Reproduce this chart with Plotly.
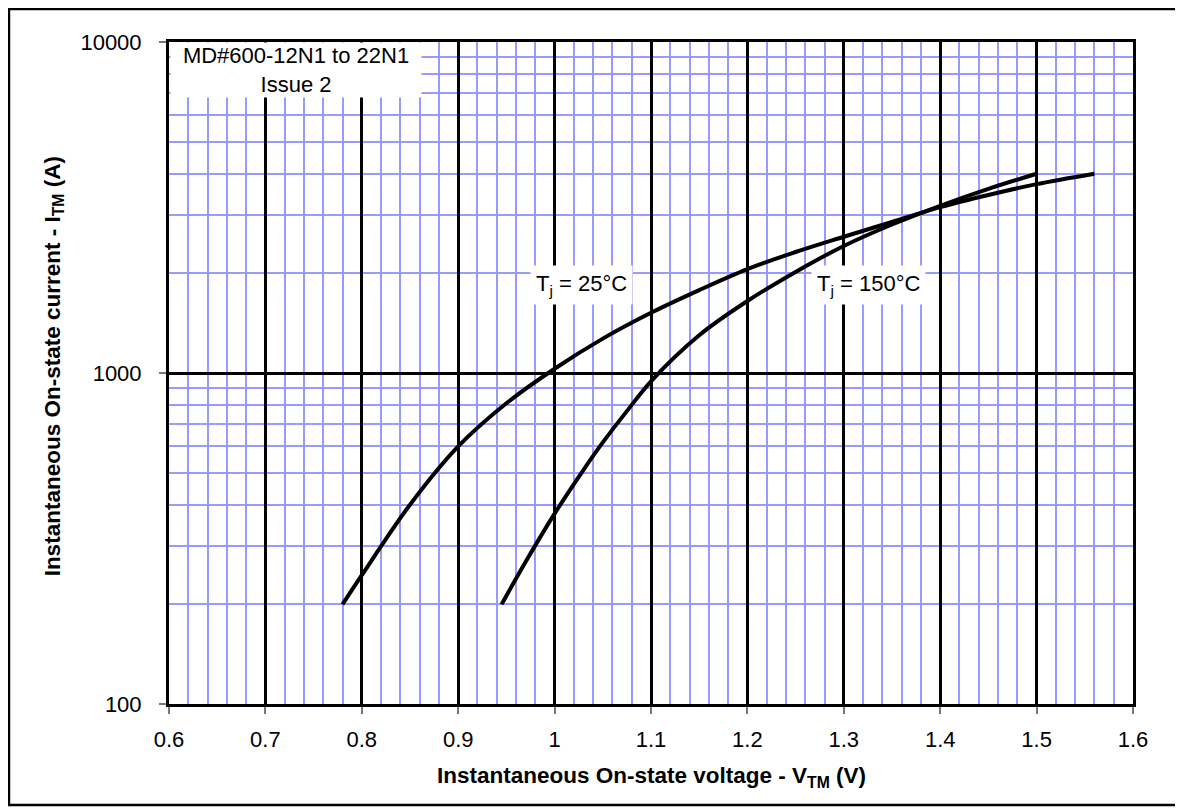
import plotly.graph_objects as go

# Data
v_25 = [0.78, 0.80, 0.85, 0.90, 0.95, 1.00, 1.05, 1.10, 1.15, 1.20, 1.25, 1.30, 1.35, 1.40, 1.45, 1.50, 1.56]
i_25 = [200, 245, 400, 600, 810, 1030, 1270, 1520, 1780, 2060, 2320, 2580, 2860, 3170, 3450, 3720, 4000]

v_150 = [0.945, 0.97, 1.00, 1.03, 1.05, 1.075, 1.10, 1.15, 1.20, 1.25, 1.30, 1.35, 1.40, 1.45, 1.50]
i_150 = [200, 269, 376, 510, 617, 767, 944, 1300, 1650, 2020, 2420, 2810, 3200, 3600, 4000]

x_ticks = [0.6, 0.7, 0.8, 0.9, 1.0, 1.1, 1.2, 1.3, 1.4, 1.5, 1.6]
x_tick_text = ["0.6", "0.7", "0.8", "0.9", "1", "1.1", "1.2", "1.3", "1.4", "1.5", "1.6"]
y_ticks = [100, 1000, 10000]
y_tick_text = ["100", "1000", "10000"]
y_minor = [200, 300, 400, 500, 600, 700, 800, 900, 2000, 3000, 4000, 5000, 6000, 7000, 8000, 9000]

FONT = "Liberation Sans, Arial, sans-serif"
BLUE = "#9999ff"

fig = go.Figure()
fig.add_trace(go.Scatter(x=v_25, y=i_25, mode="lines", line=dict(color="black", width=4, shape="spline"),
                         showlegend=False, hoverinfo="skip"))
fig.add_trace(go.Scatter(x=v_150, y=i_150, mode="lines", line=dict(color="black", width=4, shape="spline"),
                         showlegend=False, hoverinfo="skip"))

fig.update_layout(
    width=1175, height=802,
    margin=dict(l=161, r=50, t=34, b=106),
    paper_bgcolor="white", plot_bgcolor="white",
    font=dict(family=FONT, size=22, color="black"),
    xaxis=dict(
        range=[0.6, 1.6], tickvals=x_ticks, ticktext=x_tick_text,
        showgrid=True, gridcolor="black", gridwidth=2.5,
        minor=dict(dtick=0.02, showgrid=True, gridcolor=BLUE, gridwidth=1.5, ticks=""),
        showline=True, linecolor="black", linewidth=3, mirror=True,
        ticks="outside", ticklen=7, tickcolor="#777", tickwidth=1.5,
        ticklabelstandoff=7,
        zeroline=False,
    ),
    yaxis=dict(
        type="log", range=[2, 4], tickvals=y_ticks, ticktext=y_tick_text,
        showgrid=True, gridcolor="black", gridwidth=2.5,
        minor=dict(tickvals=y_minor, showgrid=True, gridcolor=BLUE, gridwidth=1.5, ticks=""),
        showline=True, linecolor="black", linewidth=3, mirror=True,
        ticks="outside", ticklen=7, tickcolor="#777", tickwidth=1.5,
        ticklabelstandoff=13,
        zeroline=False,
    ),
)

# axis titles
fig.add_annotation(x=0.5, y=-0.110, xref="paper", yref="paper", xanchor="center", yanchor="middle",
                   text="<b>Instantaneous On-state voltage - V<sub>TM</sub> (V)</b>",
                   showarrow=False, font=dict(size=22.5))
fig.add_annotation(x=-0.1193, y=0.51, xref="paper", yref="paper", xanchor="center", yanchor="middle",
                   text="<b>Instantaneous On-state current - I<sub>TM</sub> (A)</b>", textangle=-90,
                   showarrow=False, font=dict(size=22.5))

# text boxes
fig.add_annotation(x=0.7317, y=3.914, xref="x", yref="y", text="MD#600-12N1 to 22N1<br>Issue 2",
                   showarrow=False, bgcolor="white", font=dict(size=22), align="center",
                   width=250, height=54, borderpad=0)
fig.add_annotation(x=1.028, y=3.266, xref="x", yref="y", text="T<sub>j</sub> = 25°C",
                   showarrow=False, bgcolor="white", font=dict(size=22), borderpad=5)
fig.add_annotation(x=1.326, y=3.266, xref="x", yref="y", text="T<sub>j</sub> = 150°C",
                   showarrow=False, bgcolor="white", font=dict(size=22), borderpad=5)

# outer frame around the figure
fig.add_shape(type="rect", xref="paper", yref="paper", x0=-0.166, x1=1.0467, y0=-0.1526, y1=1.0498,
              line=dict(color="black", width=2.5), layer="above")

fig.write_html("out.html")
